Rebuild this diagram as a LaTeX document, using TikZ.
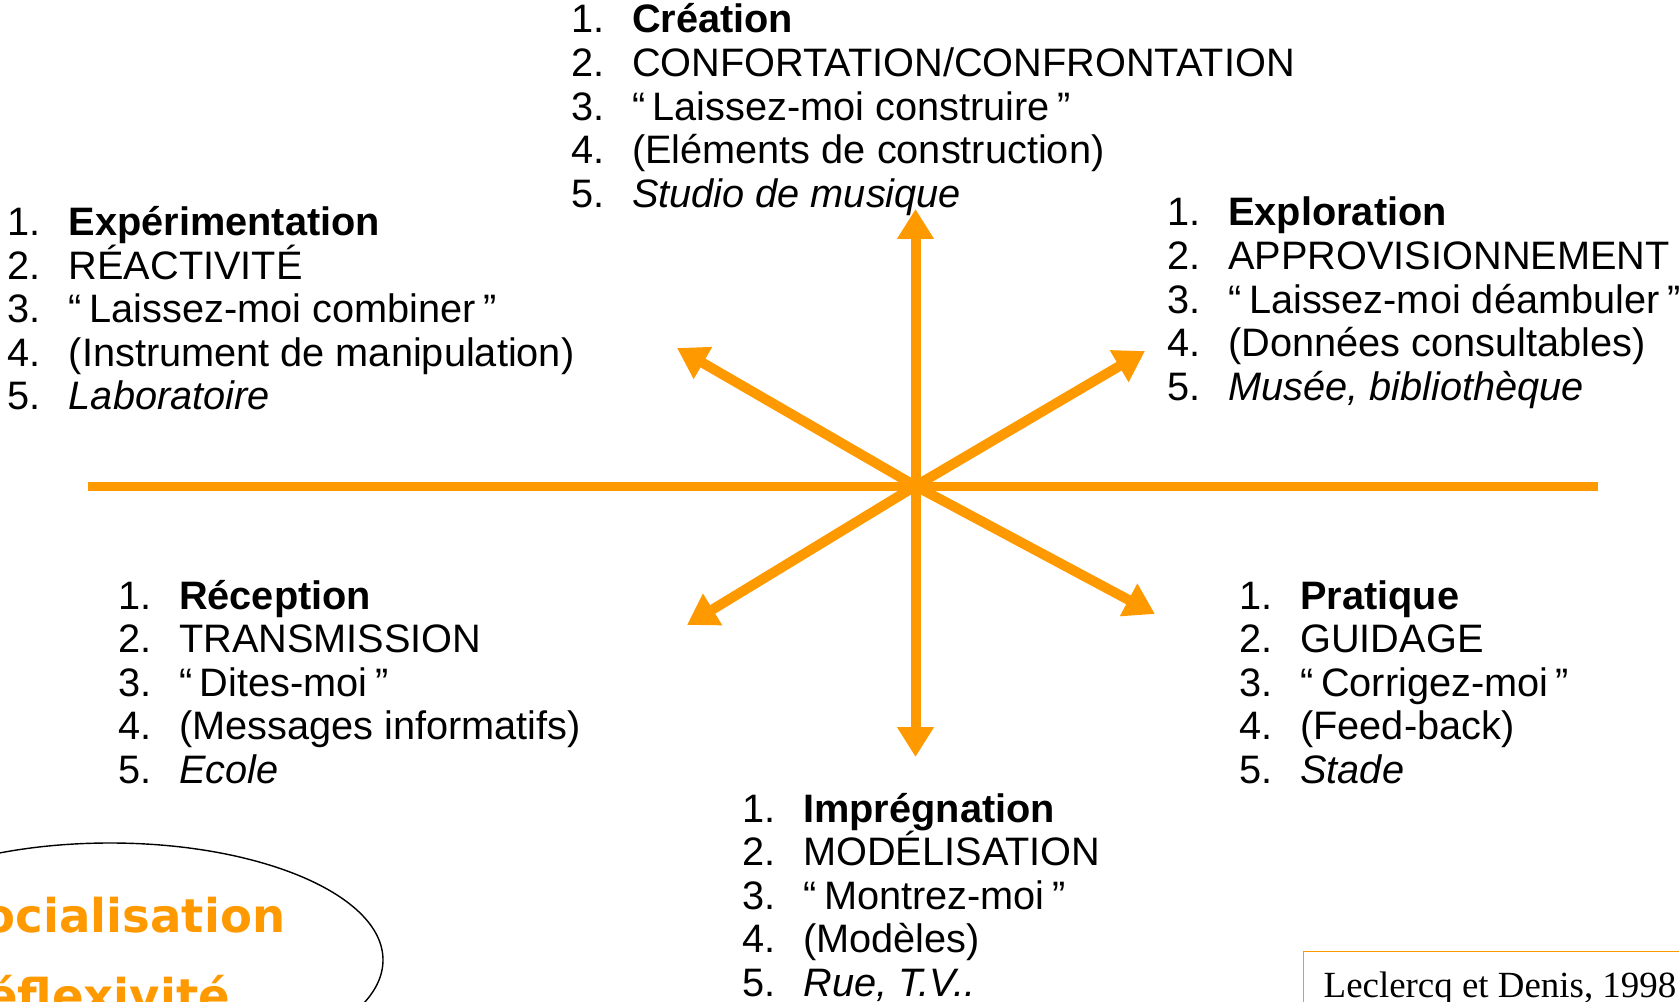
\documentclass[tikz,border=0pt]{standalone}
\usepackage{fontspec}
\setmainfont{Liberation Sans}
\newfontfamily\seriffont{Liberation Serif}
\newfontfamily\roundfont{DejaVu Sans}
\usetikzlibrary{arrows.meta}
\definecolor{orangeaxe}{RGB}{255,153,0}
\tikzset{
  item/.style={anchor=base west,inner sep=0pt,font=\fontsize{22.6pt}{24.8pt}\selectfont},
  axe/.style={orangeaxe,line width=0.2cm,-{Triangle[width=0.7cm,length=0.6cm]}},
  pole/.style={anchor=base west,inner sep=0pt,text=orangeaxe,font=\roundfont\bfseries\fontsize{26.5pt}{30pt}\selectfont}
}
\newcommand\guill[1]{“\hspace{0.15cm}#1\hspace{0.15cm}”}
\newcommand\etapes[3]{%
  \foreach \txt [count=\k] in {#3}
    \node (#1\k) [item,yshift={(1-\k)*0.872cm}] at (#2) {\makebox[1.22cm][l]{\k.}\txt};}

\begin{document}
\begin{tikzpicture}
\useasboundingbox (0,0) rectangle (33.58,20.02);
\clip (0,0) rectangle (33.58,20.02);
\coordinate (hub) at (18.31,10.3);
\coordinate (haut) at (18.31,15.84);
\coordinate (bas) at (18.31,4.88);
\coordinate (hautgauche) at (13.54,13.06);
\coordinate (hautdroite) at (22.9,13.0);
\coordinate (basgauche) at (13.74,7.52);
\coordinate (basdroite) at (23.1,7.74);
\coordinate (ouest) at (1.76,10.3);
\coordinate (est) at (31.96,10.3);
\draw[orangeaxe,line width=0.18cm] (ouest) -- (est);
\foreach \bout in {haut,bas,hautgauche,hautdroite,basgauche,basdroite}
  \draw[axe] (hub) -- (\bout);
\etapes{creation}{11.414,19.36}{\textbf{Création},CONFORTATION/CONFRONTATION,\guill{Laissez-moi construire},(Eléments de construction),\textit{Studio de musique}}
\etapes{experimentation}{0.15,15.31}{\textbf{Expérimentation},RÉACTIVITÉ,\guill{Laissez-moi combiner},(Instrument de manipulation),\textit{Laboratoire}}
\etapes{exploration}{23.34,15.5}{\textbf{Exploration},APPROVISIONNEMENT,\guill{Laissez-moi déambuler},(Données consultables),{\textit{Musée, bibliothèque}}}
\etapes{reception}{2.356,7.84}{\textbf{Réception},TRANSMISSION,\guill{Dites-moi},(Messages informatifs),\textit{Ecole}}
\etapes{pratique}{24.78,7.84}{\textbf{Pratique},GUIDAGE,\guill{Corrigez-moi},(Feed-back),\textit{Stade}}
\etapes{impregnation}{14.84,3.58}{\textbf{Imprégnation},MODÉLISATION,\guill{Montrez-moi},(Modèles),{\textit{Rue, T.V..}}}
\draw[line width=0.8pt] (2.2,0.82) ellipse [x radius=5.46cm,y radius=2.34cm];
\node (socialisation) [pole] at (-1.0,1.38) {Socialisation};
\node (reflexivite) [pole] at (-1.0,-0.22) {Réflexivité};
\node (source) [draw=orangeaxe,line width=0.8pt,anchor=north west,inner sep=0.4cm,
  font=\seriffont\fontsize{21pt}{25pt}\selectfont] at (26.06,1.0) {Leclercq et Denis, 1998};
\end{tikzpicture}
\end{document}
